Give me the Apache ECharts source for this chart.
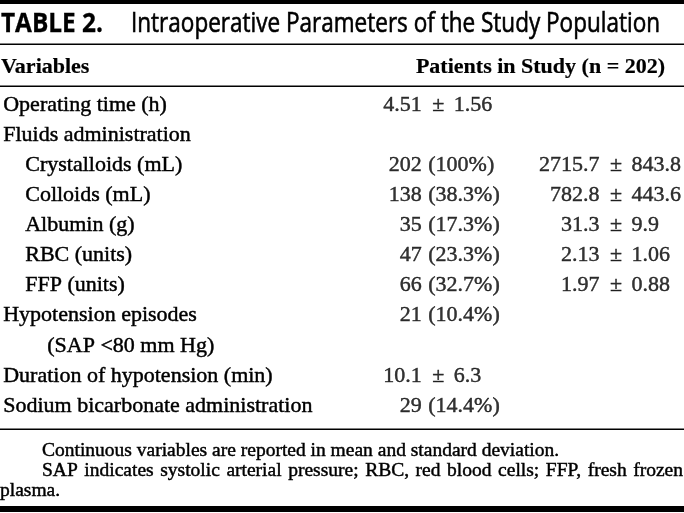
<!DOCTYPE html>
<html><head><meta charset="utf-8">
<script src="https://cdn.jsdelivr.net/npm/echarts@6/dist/echarts.min.js"></script>
<style>html,body{margin:0;padding:0;background:#fff}#c{width:684px;height:513px}</style>
</head><body><div id="c"></div>
<script>
// ---- table content ----
const tableNumber = 'TABLE 2.';
const tableTitle = 'Intraoperative Parameters of the Study Population';
const headerLeft = 'Variables';
const headerRight = 'Patients in Study (n = 202)';
const rowLabels = ['Operating time (h)', 'Fluids administration', 'Crystalloids (mL)', 'Colloids (mL)', 'Albumin (g)', 'RBC (units)', 'FFP (units)', 'Hypotension episodes', '(SAP <80 mm Hg)', 'Duration of hypotension (min)', 'Sodium bicarbonate administration'];
const rowIndent = [0, 0, 1, 1, 1, 1, 1, 0, 2, 0, 0];
const patientCount = [null, null, 202, 138, 35, 47, 66, 21, null, null, 29];
const patientPercent = [null, null, 100, 38.3, 17.3, 23.3, 32.7, 10.4, null, null, 14.4];
const overallMean = [4.51, null, null, null, null, null, null, null, null, 10.1, null];
const overallSD = [1.56, null, null, null, null, null, null, null, null, 6.3, null];
const amountMean = [null, null, 2715.7, 782.8, 31.3, 2.13, 1.97, null, null, null, null];
const amountSD = [null, null, 843.8, 443.6, 9.9, 1.06, 0.88, null, null, null, null];
const columns = ['Patients', 'Amount'];
const footnotes = ['Continuous variables are reported in mean and standard deviation.', 'SAP indicates systolic arterial pressure; RBC, red blood cells; FFP, fresh frozen', 'plasma.'];

// ---- styling ----
const SERIF = '"Liberation Serif", "Times New Roman", serif';
const SANS = '"Open Sans", "Noto Sans", sans-serif';
const INK = '#000';
const FS = 22;
const FN = 19.5;
const THICK = 0.45;

const cv = document.createElement('canvas').getContext('2d');
function textW(str, font) { cv.font = font; return cv.measureText(str).width; }

function points(arr, col, fmt) {
  const d = [];
  arr.forEach((v, i) => { if (v != null) d.push({ value: [col, i], txt: fmt(v, i) }); });
  return d;
}
const ink = { fontFamily: SERIF, fontSize: FS, color: INK, textBorderColor: INK, textBorderWidth: THICK };
const baseLabel = Object.assign({ show: true, distance: 0, formatter: p => p.data.txt }, ink);
const pmRich = { pm: Object.assign({ padding: [0, 9.5, 0, 9.5] }, ink) };
function textSeries(name, data, side, rich) {
  return {
    type: 'scatter', name, data, symbolSize: 1, itemStyle: { color: 'rgba(0,0,0,0)' },
    silent: true, emphasis: { disabled: true },
    label: Object.assign({}, baseLabel, { position: side, rich: rich || {} })
  };
}

// ---- title, header, notes, rules ----
const graphics = [];
function rule(y, h) { graphics.push({ type: 'rect', shape: { x: 0, y: y, width: 684, height: h }, style: { fill: '#000' }, silent: true }); }
rule(0, 4); rule(43.5, 1.6); rule(85.5, 1.6); rule(428.5, 1.6); rule(506, 6);

function txt(str, x, y, font, align, scaleX, lw) {
  graphics.push({ type: 'text', x: x, y: y, scaleX: scaleX || 1, silent: true,
    style: { text: str, font: font, fill: INK, stroke: INK, lineWidth: lw == null ? THICK : lw,
      textAlign: align || 'left', align: align || 'left', textVerticalAlign: 'middle', verticalAlign: 'middle' } });
}
const tFontB = 'bold 27px ' + SANS, tFont = '27px ' + SANS;
txt(tableNumber, 1, 24, tFontB, 'left', 102 / textW(tableNumber, tFontB), 0.3);
txt(tableTitle, 131, 24, tFont, 'left', 529 / textW(tableTitle, tFont), 0.6);
txt(headerLeft, 1, 67, 'bold ' + FS + 'px ' + SERIF, 'left', 1, 0.2);
txt(headerRight, 665, 67, 'bold ' + FS + 'px ' + SERIF, 'right', 1, 0.2);

const fnFont = FN + 'px ' + SERIF;
txt(footnotes[0], 42, 451, fnFont, 'left');
// justified second note line
(function () {
  const words = footnotes[1].split(' ');
  const ws = words.map(w => textW(w, fnFont));
  const total = ws.reduce((a, b) => a + b, 0);
  const start = 42, end = 683;
  const gap = (end - start - total) / (words.length - 1);
  let x = start;
  words.forEach((w, i) => { txt(w, x, 471, fnFont, 'left'); x += ws[i] + gap; });
})();
txt(footnotes[2], 0, 491, fnFont, 'left');

const chart = echarts.init(document.getElementById('c'), null, { renderer: 'canvas' });
chart.setOption({
  animation: false,
  backgroundColor: '#fff',
  grid: { left: 420, right: 84, top: 90, bottom: 92 },
  xAxis: { type: 'category', data: columns, boundaryGap: false, show: false },
  yAxis: {
    type: 'category', data: rowLabels, inverse: true,
    axisLine: { show: false }, axisTick: { show: false }, splitLine: { show: false },
    axisLabel: Object.assign({
      interval: 0, margin: 419, align: 'left',
      formatter: (v, i) => '{l' + rowIndent[i] + '|' + v + '}',
      rich: {
        l0: Object.assign({ padding: [0, 0, 0, 0] }, ink),
        l1: Object.assign({ padding: [0, 0, 0, 22] }, ink),
        l2: Object.assign({ padding: [0, 0, 0, 44] }, ink)
      }
    }, ink)
  },
  series: [
    textSeries('count', points(patientCount, 0, v => String(v)), 'left'),
    textSeries('percent', points(patientPercent, 0, v => ' (' + v + '%)'), 'right'),
    textSeries('overallMean', points(overallMean, 0, v => String(v)), 'left'),
    textSeries('overallSD', points(overallSD, 0, v => '{pm|±}' + v), 'right', pmRich),
    textSeries('amountMean', points(amountMean, 1, v => String(v)), 'left'),
    textSeries('amountSD', points(amountSD, 1, v => '{pm|±}' + v), 'right', pmRich)
  ],
  graphic: { elements: graphics }
});
</script>
</body></html>
